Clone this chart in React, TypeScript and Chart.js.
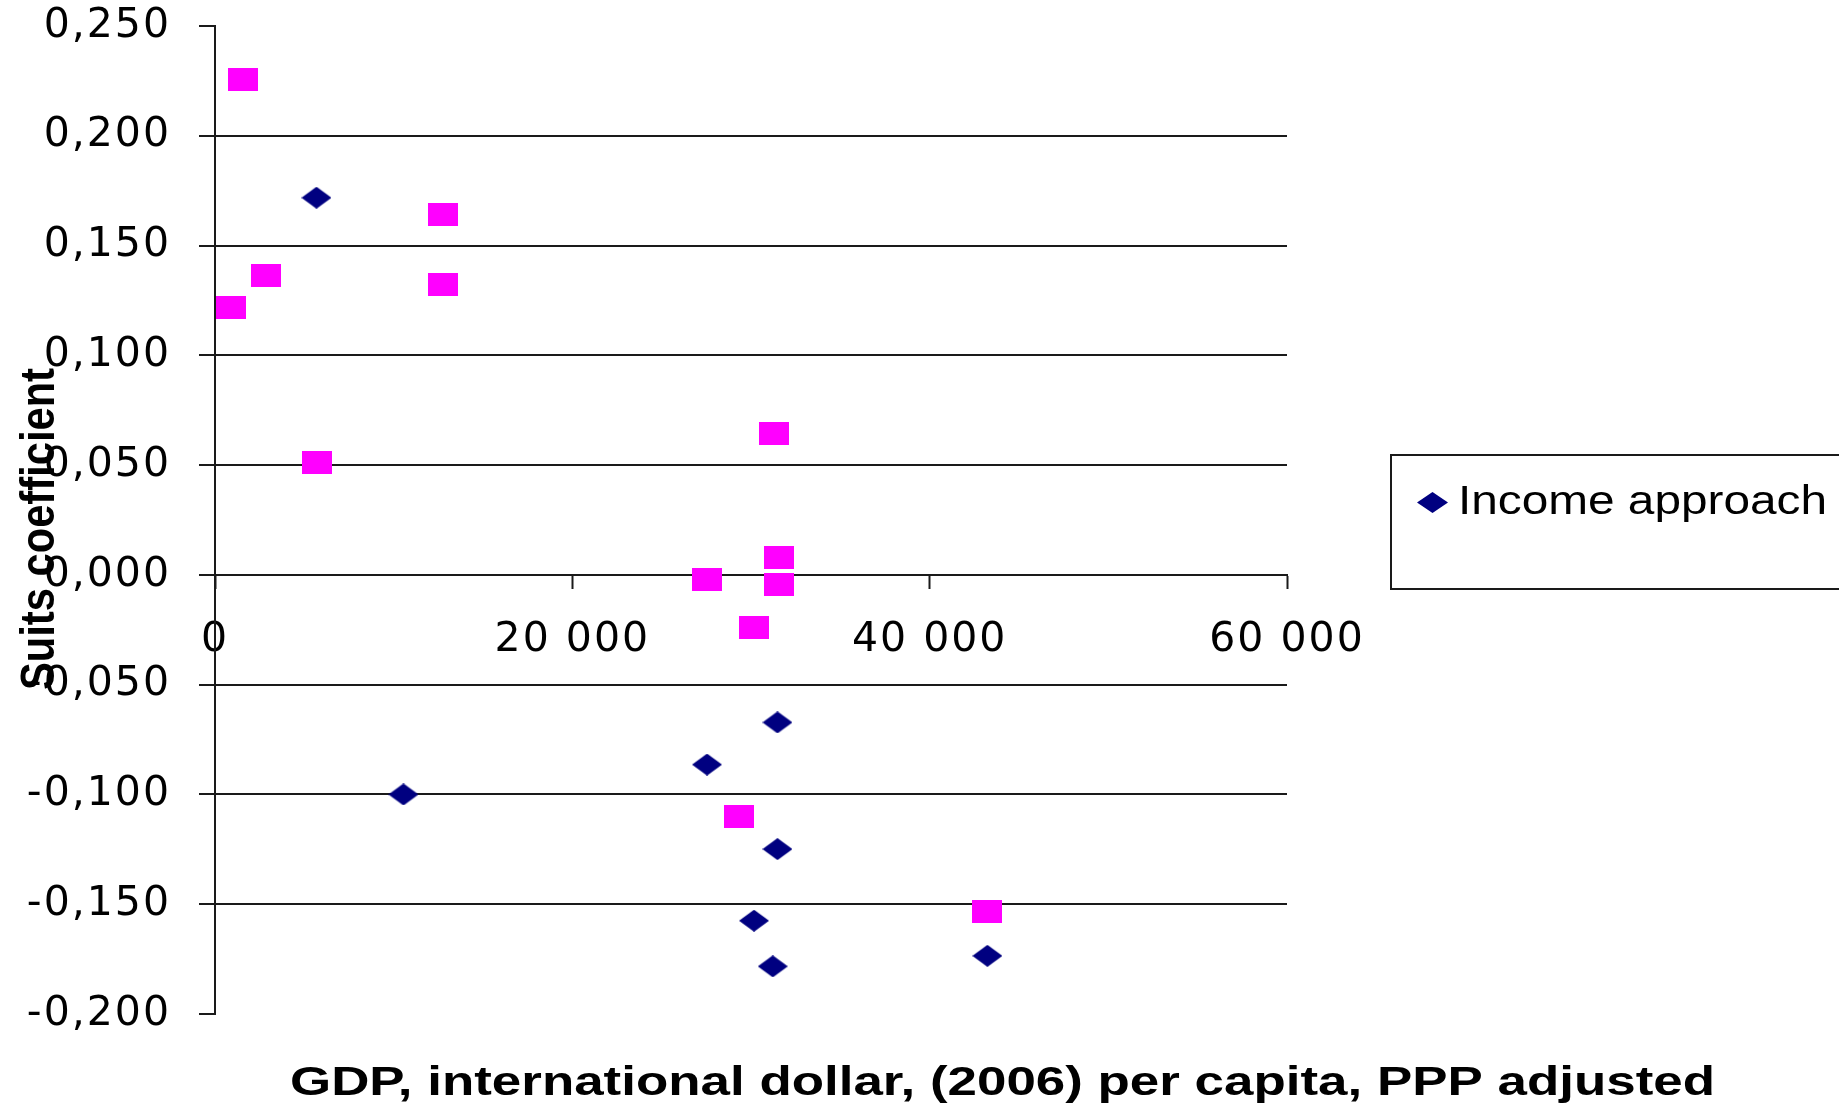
import React, { useEffect, useRef } from 'react';
import { Chart, registerables } from 'chart.js';

Chart.register(...registerables);

// ---- data ----
const seriesLabels = ['Income approach', ''];
const incomeGdp = [5680, 10550, 27540, 31480, 31480, 30170, 31220, 43230];
const incomeSuits = [0.1718, -0.1, -0.0864, -0.0672, -0.1249, -0.1575, -0.1783, -0.1735];
const secondGdp = [1570, 900, 2870, 12780, 12780, 5690, 31290, 31550, 27540, 31550, 30150, 29320, 43230];
const secondSuits = [0.2258, 0.122, 0.1364, 0.1642, 0.1321, 0.0514, 0.0642, 0.008, -0.002, -0.0042, -0.0241, -0.1099, -0.1532];
const xTickValues = [0, 20000, 40000, 60000];
const yTickValues = [-0.2, -0.15, -0.1, -0.05, 0, 0.05, 0.1, 0.15, 0.2, 0.25];
const xTitle = 'GDP, international dollar, (2006) per capita, PPP adjusted';
const yTitle = 'Suits coefficient';

const NAVY = '#000080';
const PINK = '#FF00FF';
const LINE = '#1a1a1a';

function makeSquare(w: number, h: number, color: string) {
  const c = document.createElement('canvas');
  c.width = w;
  c.height = h;
  const g = c.getContext('2d')!;
  g.fillStyle = color;
  g.fillRect(0, 0, w, h);
  return c;
}

function makeDiamond(w: number, h: number, color: string) {
  const c = document.createElement('canvas');
  c.width = w;
  c.height = h;
  const g = c.getContext('2d')!;
  g.fillStyle = color;
  g.beginPath();
  g.moveTo(w / 2, 0);
  g.lineTo(w, h / 2);
  g.lineTo(w / 2, h);
  g.lineTo(0, h / 2);
  g.closePath();
  g.fill();
  return c;
}

function fmtX(v: number) {
  return Math.round(v).toString().replace(/\B(?=(\d{3})+(?!\d))/g, ' ');
}

function fmtY(v: number) {
  let r = Math.round(v * 1000) / 1000;
  if (r === 0) r = 0;
  return r.toFixed(3).replace('.', ',');
}

export default function App() {
  const ref = useRef<HTMLCanvasElement>(null);

  useEffect(() => {
    const canvas = ref.current!;
    const square = makeSquare(30, 23, PINK);
    const diamond = makeDiamond(30, 22, NAVY);
    const legendDiamond = makeDiamond(31, 21, NAVY);

    const decor = {
      id: 'decor',
      beforeDraw(chart: any) {
        chart.ctx.letterSpacing = '2px';
      },
      beforeDatasetsDraw(chart: any) {
        chart.ctx.letterSpacing = '0px';
      },
      afterDraw(chart: any) {
        const ctx = chart.ctx as CanvasRenderingContext2D;
        ctx.save();
        (ctx as any).letterSpacing = '0px';
        ctx.fillStyle = '#000';
        ctx.textAlign = 'left';
        ctx.textBaseline = 'alphabetic';

        // x title
        ctx.font = 'bold 40px "Liberation Sans", Arial, sans-serif';
        const wx = ctx.measureText(xTitle).width;
        ctx.save();
        ctx.translate(290, 1095);
        ctx.scale(1425 / wx, 1);
        ctx.fillText(xTitle, 0, 0);
        ctx.restore();

        // y title
        ctx.font = 'bold 48px "Liberation Sans", Arial, sans-serif';
        const wy = ctx.measureText(yTitle).width;
        ctx.save();
        ctx.translate(54, 690);
        ctx.rotate(-Math.PI / 2);
        ctx.scale(322 / wy, 1);
        ctx.fillText(yTitle, 0, 0);
        ctx.restore();

        // legend (only first entry is shown in the reference)
        ctx.lineWidth = 2;
        ctx.strokeStyle = LINE;
        ctx.strokeRect(1391, 455, 520, 134);
        ctx.drawImage(legendDiamond, 1417, 492);
        ctx.font = '40px "Liberation Sans", Arial, sans-serif';
        ctx.textBaseline = 'middle';
        const wl = ctx.measureText(seriesLabels[0]).width;
        ctx.save();
        ctx.translate(1458, 503);
        ctx.scale(369 / wl, 1);
        ctx.fillText(seriesLabels[0], 0, 0);
        ctx.restore();

        ctx.restore();
      },
    };

    const chart = new Chart(canvas, {
      type: 'scatter',
      data: {
        datasets: [
          {
            label: seriesLabels[0],
            data: incomeGdp.map((x, i) => ({ x, y: incomeSuits[i] })),
            pointStyle: diamond as any,
            pointRadius: 12,
            backgroundColor: NAVY,
            borderColor: NAVY,
            clip: false as any,
          },
          {
            label: seriesLabels[1],
            data: secondGdp.map((x, i) => ({ x, y: secondSuits[i] })),
            pointStyle: square as any,
            pointRadius: 12,
            backgroundColor: PINK,
            borderColor: PINK,
            clip: false as any,
          },
        ],
      },
      options: {
        animation: false,
        responsive: false,
        devicePixelRatio: 1,
        layout: { padding: { left: 0, top: 26, right: 552, bottom: 91 } },
        plugins: {
          legend: { display: false },
          tooltip: { enabled: false },
        },
        scales: {
          x: {
            type: 'linear',
            position: { y: 0 } as any,
            min: xTickValues[0],
            max: xTickValues[xTickValues.length - 1],
            afterBuildTicks: (s: any) => {
              s.ticks = xTickValues.map((v) => ({ value: v }));
            },
            grid: {
              display: true,
              drawOnChartArea: false,
              drawTicks: true,
              tickLength: 13,
              tickColor: LINE,
              tickWidth: 2,
            },
            border: { display: true, color: LINE, width: 2 },
            ticks: {
              color: '#000',
              font: { family: '"DejaVu Sans", sans-serif', size: 41 },
              padding: 28,
              maxRotation: 0,
              autoSkip: false,
              callback: (v: any) => fmtX(Number(v)),
            },
          },
          y: {
            type: 'linear',
            position: 'left',
            min: yTickValues[0],
            max: yTickValues[yTickValues.length - 1],
            afterBuildTicks: (s: any) => {
              s.ticks = yTickValues.map((v) => ({ value: v }));
            },
            afterFit: (s: any) => {
              s.width = 215;
              s.paddingTop = 0;
              s.paddingBottom = 0;
            },
            grid: {
              display: true,
              drawOnChartArea: true,
              drawTicks: true,
              tickLength: 16,
              tickColor: LINE,
              tickWidth: 2,
              lineWidth: 2,
              color: (c: any) => {
                const v = c.tick ? c.tick.value : 0;
                return v > 0.249 || v < -0.199 ? 'rgba(0,0,0,0)' : LINE;
              },
            },
            border: { display: true, color: LINE, width: 2 },
            ticks: {
              color: '#000',
              font: { family: '"DejaVu Sans", sans-serif', size: 41 },
              padding: 28,
              autoSkip: false,
              callback: (v: any) => fmtY(Number(v)),
            },
          },
        },
      },
      plugins: [decor],
    } as any);

    return () => chart.destroy();
  }, []);

  return (
    <div style={{ position: 'absolute', left: 0, top: 0, width: 1839, height: 1105, background: '#fff' }}>
      <canvas ref={ref} width={1839} height={1105} style={{ display: 'block', width: 1839, height: 1105 }} />
    </div>
  );
}
